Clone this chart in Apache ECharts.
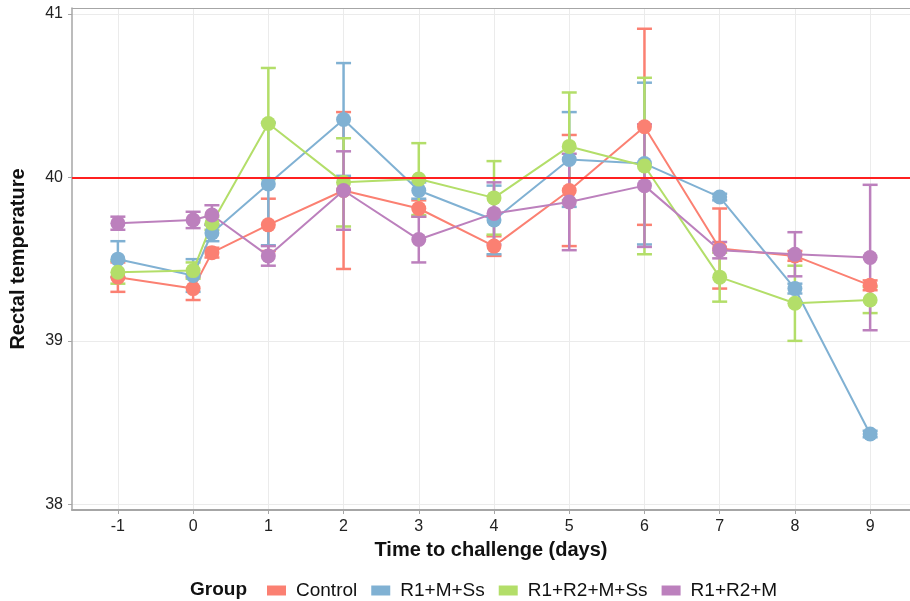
<!DOCTYPE html>
<html>
<head>
<meta charset="utf-8">
<title>Rectal temperature</title>
<script src="https://cdn.jsdelivr.net/npm/echarts@6/dist/echarts.min.js"></script>
<style>
  html, body { margin: 0; padding: 0; background: #fff; }
  #chart { width: 910px; height: 601px; }
</style>
</head>
<body>
<div id="chart"></div>
<script>
// days after challenge
var days = [-1, 0, 0.25, 1, 2, 3, 4, 5, 6, 7, 8, 9];
var xTicks = [-1, 0, 1, 2, 3, 4, 5, 6, 7, 8, 9];
var yTicks = [38, 39, 40, 41];

var groups = ['Control', 'R1+M+Ss', 'R1+R2+M+Ss', 'R1+R2+M'];
var colors = ['#FB8072', '#80B1D3', '#B3DE69', '#BC80BD'];

// means
var controlMean = [39.39, 39.32, 39.54, 39.71, 39.92, 39.81, 39.58, 39.92, 40.31, 39.565, 39.52, 39.34];
var r1mssMean   = [39.50, 39.40, 39.66, 39.96, 40.355, 39.92, 39.74, 40.11, 40.085, 39.88, 39.32, 38.43];
var r1r2mssMean = [39.42, 39.43, 39.72, 40.33, 39.97, 39.99, 39.875, 40.19, 40.07, 39.39, 39.23, 39.25];
var r1r2mMean   = [39.72, 39.74, 39.77, 39.52, 39.92, 39.62, 39.78, 39.85, 39.95, 39.555, 39.53, 39.51];

// half widths of the error bars
var controlErr = [0.09, 0.07, 0.03, 0.16, 0.48, 0.05, 0.06, 0.34, 0.60, 0.245, 0.03, 0.03];
var r1mssErr   = [0.11, 0.10, 0.05, 0.375, 0.345, 0.05, 0.21, 0.29, 0.495, 0.02, 0.03, 0.02];
var r1r2mssErr = [0.07, 0.05, 0.04, 0.34, 0.27, 0.22, 0.225, 0.33, 0.54, 0.15, 0.23, 0.08];
var r1r2mErr   = [0.04, 0.05, 0.06, 0.06, 0.24, 0.14, 0.19, 0.295, 0.375, 0.05, 0.135, 0.445];

var means = [controlMean, r1mssMean, r1r2mssMean, r1r2mMean];
var errs = [controlErr, r1mssErr, r1r2mssErr, r1r2mErr];

var FONT = 'Liberation Sans';
var AXIS_GREY = '#A6A6A6';
var X_MIN = -1.61, X_MAX = 9.53;

var myChart = echarts.init(document.getElementById('chart'));

function errSeries(i){
    var data = days.map(function(d, k){
        return [d, means[i][k] - errs[i][k], means[i][k] + errs[i][k]];
    });
    return {
        name: groups[i],
        type: 'custom',
        z: 1,
        silent: true,
        itemStyle: { color: colors[i] },
        renderItem: function(params, api){
            var lo = api.coord([api.value(0), api.value(1)]);
            var hi = api.coord([api.value(0), api.value(2)]);
            var w = 7.5;
            var st = { stroke: colors[i], lineWidth: 2.5 };
            return {
                type: 'group',
                children: [
                    { type: 'line', shape: { x1: lo[0], y1: lo[1], x2: hi[0], y2: hi[1] }, style: st },
                    { type: 'line', shape: { x1: lo[0] - w, y1: lo[1], x2: lo[0] + w, y2: lo[1] }, style: st },
                    { type: 'line', shape: { x1: hi[0] - w, y1: hi[1], x2: hi[0] + w, y2: hi[1] }, style: st }
                ]
            };
        },
        data: data
    };
}

function lineSeries(i){
    return {
        name: groups[i],
        type: 'line',
        z: 2,
        showSymbol: false,
        silent: true,
        itemStyle: { color: colors[i] },
        lineStyle: { color: colors[i], width: 2 },
        data: days.map(function(d, k){ return [d, means[i][k]]; })
    };
}

function pointSeries(i){
    return {
        name: groups[i],
        type: 'scatter',
        z: 4,
        symbol: 'circle',
        symbolSize: 15,
        silent: true,
        itemStyle: { color: colors[i], opacity: 1 },
        data: days.map(function(d, k){ return [d, means[i][k]]; })
    };
}

var series = [];
groups.forEach(function(g, i){ series.push(errSeries(i)); });
groups.forEach(function(g, i){ series.push(lineSeries(i)); });
// reference line at 40
series[series.length - 1].markLine = {
    silent: true,
    symbol: 'none',
    label: { show: false },
    lineStyle: { color: '#FF2020', width: 2, type: 'solid' },
    data: [{ yAxis: 40 }]
};
groups.forEach(function(g, i){ series.push(pointSeries(i)); });

option = {
    backgroundColor: '#FFFFFF',
    animation: false,
    color: colors,
    grid: {
        left: 69,
        right: 0,
        top: 8,
        bottom: 91
    },
    legend: {
        left: 262,
        top: 576,
        itemWidth: 19,
        itemHeight: 10,
        itemGap: 14,
        icon: 'rect',
        data: groups,
        selectedMode: false,
        textStyle: { fontFamily: FONT, fontSize: 19, color: '#111', padding: [0, 0, 0, 5] }
    },
    graphic: [{
        type: 'text',
        left: 190,
        top: 580,
        style: { text: 'Group', font: 'bold 19px "Liberation Sans"', fill: '#111' }
    }],
    xAxis: [{
        type: 'value',
        min: X_MIN,
        max: X_MAX,
        name: 'Time to challenge (days)',
        nameLocation: 'middle',
        nameGap: 30,
        nameTextStyle: { fontFamily: FONT, fontSize: 20, fontWeight: 'bold', color: '#111' },
        axisLine: { show: true, onZero: false, lineStyle: { color: AXIS_GREY, width: 2 } },
        axisTick: { show: true, length: 4, customValues: xTicks, lineStyle: { color: AXIS_GREY } },
        axisLabel: { customValues: xTicks, margin: 9, fontFamily: FONT, fontSize: 16, color: '#222' },
        splitLine: { show: true, lineStyle: { color: '#EBEBEB', width: 1 } }
    }, {
        // top panel border
        type: 'value',
        position: 'top',
        min: X_MIN,
        max: X_MAX,
        axisLine: { show: true, onZero: false, lineStyle: { color: AXIS_GREY, width: 1 } },
        axisTick: { show: false },
        axisLabel: { show: false },
        splitLine: { show: false }
    }],
    yAxis: {
        type: 'value',
        min: 37.965,
        max: 41.037,
        name: 'Rectal temperature',
        nameLocation: 'middle',
        nameGap: 44,
        nameTextStyle: { fontFamily: FONT, fontSize: 20, fontWeight: 'bold', color: '#111' },
        axisLine: { show: true, onZero: false, lineStyle: { color: AXIS_GREY, width: 1.5 } },
        axisTick: { show: true, length: 4, customValues: yTicks, lineStyle: { color: AXIS_GREY } },
        axisLabel: { customValues: yTicks, margin: 9, fontFamily: FONT, fontSize: 16, color: '#222' },
        splitLine: { show: true, lineStyle: { color: '#EBEBEB', width: 1 } }
    },
    series: series
};
myChart.setOption(option);
</script>
</body>
</html>
